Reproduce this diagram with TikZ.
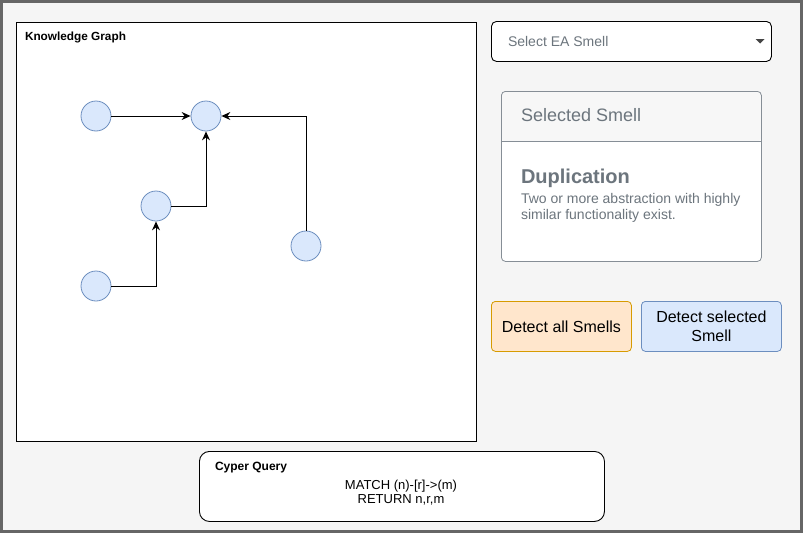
\documentclass[tikz,border=0pt]{standalone}
\usepackage{fontspec}
\setmainfont{Liberation Sans}
\usetikzlibrary{arrows.meta}
\definecolor{bg}{HTML}{F5F5F5}
\definecolor{framec}{HTML}{666666}
\definecolor{nodefill}{HTML}{DAE8FC}
\definecolor{nodeline}{HTML}{6C8EBF}
\definecolor{orfill}{HTML}{FFE6CC}
\definecolor{orline}{HTML}{D79B00}
\definecolor{txtgrey}{HTML}{6C757D}
\definecolor{cardline}{HTML}{868E96}
\definecolor{hdr}{HTML}{F7F7F7}
\definecolor{caretc}{HTML}{444444}
\begin{document}
\begin{tikzpicture}[x=1pt,y=-1pt,
  kgnode/.style={circle, draw=nodeline, fill=nodefill, minimum size=30pt, inner sep=0pt, line width=0.8pt},
  link/.style={draw=black, line width=1pt, -{Stealth[length=9pt,width=8pt,inset=3pt]}},
  panel/.style={draw=black, fill=white, line width=0.9pt, anchor=north west, inner sep=0pt},
  lbl/.style={inner sep=0pt, outer sep=0pt},
  btn/.style={rounded corners=4pt, line width=0.8pt, minimum width=140pt, minimum height=50pt, anchor=north west, align=center, inner sep=0pt, font=\fontsize{16}{19.5}\selectfont}
]
\useasboundingbox (0,0) rectangle (803,533);
\fill[framec] (0,0) rectangle (803,533);
\fill[bg] (3,3) rectangle (800,530);

% Knowledge graph panel
\node[panel, minimum width=460pt, minimum height=419pt] (kg) at (16,22) {};
\node[lbl, anchor=west, font=\bfseries\fontsize{11.8}{14}\selectfont] (kgt) at (25,37.5) {Knowledge Graph};

\node[kgnode] (a) at (96,116) {};
\node[kgnode] (b) at (206,116) {};
\node[kgnode] (c) at (156,206) {};
\node[kgnode] (d) at (306,246) {};
\node[kgnode] (e) at (96,286) {};

\draw[link] (a) -- (b);
\draw[link] (c) -| (b);
\draw[link] (d) |- (b);
\draw[link] (e) -| (c);

% Dropdown
\node[panel, rounded corners=5pt, minimum width=280pt, minimum height=40pt] (dd) at (491,21) {};
\node[lbl, anchor=west, text=txtgrey, font=\fontsize{14}{16}\selectfont] (ddt) at (508,41) {Select EA Smell};
\coordinate (car) at (760,41);
\fill[caretc] ([xshift=-4.5pt,yshift=2pt]car) -- ([xshift=4.5pt,yshift=2pt]car) -- ([yshift=-2.5pt]car) -- cycle;

% Card
\node[draw=cardline, fill=white, line width=0.8pt, rounded corners=4pt, minimum width=260pt, minimum height=170pt, anchor=north west, inner sep=0pt,
  path picture={\fill[hdr] (path picture bounding box.north west) rectangle ([yshift=-50pt]path picture bounding box.north east);}] (card) at (501,91) {};
\draw[cardline, line width=0.8pt] ([yshift=-50pt]card.north west) -- ([yshift=-50pt]card.north east);
\node[lbl, anchor=west, text=txtgrey, font=\fontsize{18}{21}\selectfont] (cardh) at (521,115) {Selected Smell};
\node[lbl, anchor=west, text=txtgrey, font=\bfseries\fontsize{20}{23}\selectfont] (dup) at (521,178) {Duplication};
\node[lbl, anchor=north west, text=txtgrey, align=left, font=\fontsize{14}{16}\selectfont] (desc) at (521,193) {Two or more abstraction with highly\\similar functionality exist.};

% Buttons
\node[btn, draw=orline, fill=orfill] (b1) at (491,301) {Detect all Smells};
\node[btn, draw=nodeline, fill=nodefill] (b2) at (641,301) {Detect selected\\Smell};

% Cypher query
\node[panel, rounded corners=10pt, minimum width=405pt, minimum height=70pt] (cq) at (199,451) {};
\node[lbl, anchor=west, font=\bfseries\fontsize{12}{14}\selectfont] (cqt) at (215,467.5) {Cyper Query};
\node[lbl, align=center, font=\fontsize{13}{14}\selectfont] (cqq) at (401,492.5) {MATCH (n)-[r]-\textgreater(m)\\RETURN n,r,m};
\end{tikzpicture}
\end{document}
